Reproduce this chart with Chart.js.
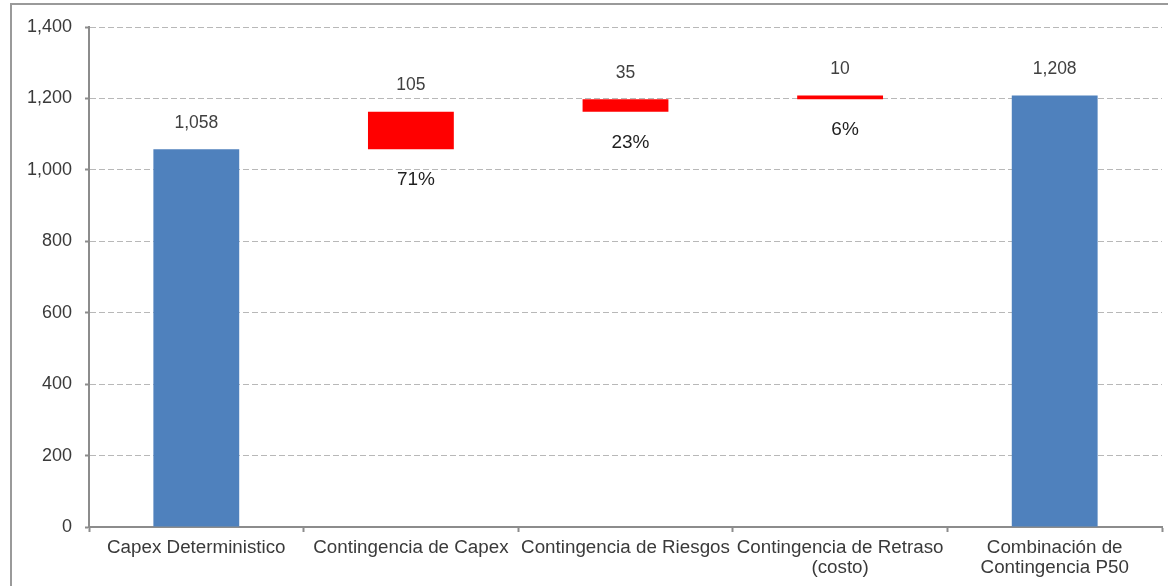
<!DOCTYPE html>
<html>
<head>
<meta charset="utf-8">
<title>Capex y contingencias</title>
<script src="https://cdn.jsdelivr.net/npm/chart.js@4/dist/chart.umd.min.js"></script>
<style>
  html, body { margin: 0; padding: 0; background: #ffffff; }
  #wrap { width: 1168px; height: 586px; position: relative; overflow: hidden; }
</style>
</head>
<body>
<div id="wrap"><canvas id="chart" width="1168" height="586"></canvas></div>
<script>
// Categories along the x axis (multi-line ones as arrays)
const categories = [
  'Capex Deterministico',
  'Contingencia de Capex',
  'Contingencia de Riesgos',
  ['Contingencia de Retraso', '(costo)'],
  ['Combinación de', 'Contingencia P50']
];

// Waterfall values
const baseValue = 1058;             // deterministic capex
const contingencyValues = [105, 35, 10];
const combinedValue = 1208;         // P50 combined contingency
const contingencyShares = ['71%', '23%', '6%'];

// Y axis ticks
const yTicks = [0, 200, 400, 600, 800, 1000, 1200, 1400];

// Build floating bar ranges from the values above
const ranges = [[0, baseValue]];
let running = baseValue;
contingencyValues.forEach(v => { ranges.push([running, running + v]); running += v; });
ranges.push([0, combinedValue]);
const valueLabels = [baseValue, ...contingencyValues, combinedValue];

const BLUE = '#4F81BD';
const RED = '#FF0000';
const barColors = ranges.map((r, i) => (i === 0 || i === ranges.length - 1) ? BLUE : RED);

const FONT = '"Liberation Sans", Arial, Helvetica, sans-serif';
const fmt = new Intl.NumberFormat('en-US');

// Outer frame of the figure
const framePlugin = {
  id: 'frame',
  beforeDraw(chart) {
    const ctx = chart.ctx;
    ctx.save();
    ctx.fillStyle = '#ffffff';
    ctx.fillRect(0, 0, chart.width, chart.height);
    ctx.strokeStyle = '#9a9a9a';
    ctx.lineWidth = 2;
    ctx.strokeRect(11, 4, 1300, 800);
    ctx.restore();
  }
};

// Value labels above bars and share labels below the contingency bars
const labelPlugin = {
  id: 'barLabels',
  afterDatasetsDraw(chart) {
    const ctx = chart.ctx;
    const meta = chart.getDatasetMeta(0);
    ctx.save();
    ctx.textAlign = 'center';
    ctx.textBaseline = 'middle';
    meta.data.forEach((bar, i) => {
      const top = Math.min(bar.y, bar.base);
      const bottom = Math.max(bar.y, bar.base);
      ctx.font = '17.5px ' + FONT;
      ctx.fillStyle = '#404040';
      ctx.fillText(fmt.format(valueLabels[i]), bar.x, top - 26);
      if (i > 0 && i <= contingencyShares.length) {
        ctx.font = '19px ' + FONT;
        ctx.fillStyle = '#1f1f1f';
        ctx.fillText(contingencyShares[i - 1], bar.x + 5, bottom + 31);
      }
    });
    ctx.restore();
  }
};

new Chart(document.getElementById('chart'), {
  type: 'bar',
  data: {
    labels: categories,
    datasets: [{
      data: ranges,
      backgroundColor: barColors,
      borderWidth: 0,
      barPercentage: 0.4,
      categoryPercentage: 1.0
    }]
  },
  options: {
    responsive: false,
    animation: false,
    events: [],
    layout: { padding: { left: 0, top: 27, right: 6, bottom: 0 } },
    plugins: {
      legend: { display: false },
      tooltip: { enabled: false }
    },
    scales: {
      x: {
        offset: true,
        grid: {
          display: true,
          offset: true,
          drawOnChartArea: false,
          drawTicks: true,
          tickLength: 5,
          tickColor: '#8c8c8c',
          tickWidth: 2
        },
        border: { display: true, color: '#8c8c8c', width: 2 },
        ticks: {
          autoSkip: false,
          maxRotation: 0,
          minRotation: 0,
          padding: 6,
          color: '#3a3a3a',
          font: { family: FONT, size: 18.8, lineHeight: 1.05 }
        },
        afterFit(scale) { scale.height = 59; }
      },
      y: {
        min: 0,
        max: yTicks[yTicks.length - 1],
        afterBuildTicks(scale) { scale.ticks = yTicks.map(v => ({ value: v })); },
        grid: {
          color: '#b8b8b8',
          lineWidth: 1,
          drawTicks: true,
          tickLength: 4,
          tickColor: '#8c8c8c',
          tickWidth: 2,
          tickBorderDash: []
        },
        border: { display: true, color: '#8c8c8c', width: 2, dash: [6, 3] },
        ticks: {
          padding: 13,
          color: '#3a3a3a',
          font: { family: FONT, size: 18 },
          callback: v => fmt.format(v)
        },
        afterFit(scale) { scale.width = 89; }
      }
    }
  },
  plugins: [framePlugin, labelPlugin]
});
</script>
</body>
</html>
